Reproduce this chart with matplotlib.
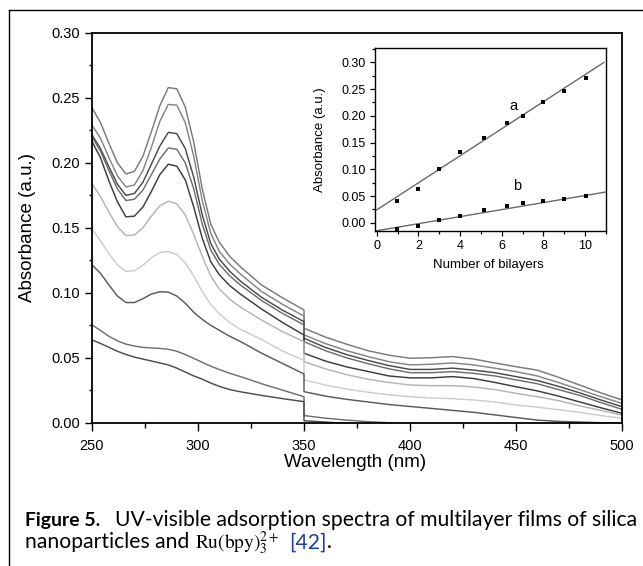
import matplotlib
matplotlib.use('Agg')
import matplotlib.pyplot as plt
from matplotlib.ticker import MultipleLocator
from matplotlib.lines import Line2D

# ---------------- data ----------------
wavelength = [250, 254, 258, 262, 266, 270, 274, 278, 282, 286, 290, 294, 298, 302, 306,
              310, 315, 320, 330, 340, 350, 350, 360, 370, 380, 390, 400, 410, 420, 430,
              440, 450, 460, 470, 480, 490, 500]

spec1 = [.2425, .231, .215, .200, .1915, .1935, .205, .224, .244, .2580, .2570, .243, .216, .180, .153,
         .139, .128, .120, .106, .096, .0868, .0727, .066, .0605, .0555, .052, .0496, .0500, .0509, .0490,
         .0460, .0431, .0405, .0350, .0290, .0230, .0175]
spec2 = [.229, .219, .204, .190, .1815, .183, .194, .212, .232, .2450, .2445, .231, .205, .171, .146,
         .132, .122, .1145, .101, .091, .082, .0676, .061, .0555, .051, .047, .0445, .0450, .0460, .0445,
         .0420, .0393, .0360, .0310, .0255, .0200, .0149]
spec3 = [.2216, .211, .197, .1835, .1750, .1765, .185, .199, .213, .2235, .2225, .211, .189, .160, .138,
         .126, .1165, .109, .0965, .0865, .0778, .065, .058, .0525, .048, .0440, .0410, .0410, .0420, .0405,
         .0385, .0355, .0325, .0280, .0230, .0175, .0123]
spec4 = [.2200, .209, .194, .1800, .1710, .1720, .179, .191, .203, .2115, .2105, .200, .180, .153, .133,
         .122, .113, .106, .094, .084, .0753, .0624, .0555, .050, .0455, .0415, .0385, .0385, .0393, .0380,
         .0360, .0330, .0300, .0255, .0210, .0155, .0103]
spec5 = [.2165, .204, .186, .170, .1585, .1590, .166, .178, .191, .1990, .1975, .187, .166, .142, .124,
         .114, .1055, .099, .0875, .0770, .0675, .0535, .0475, .043, .0395, .036, .0345, .0345, .0355, .0340,
         .0310, .0277, .0245, .0205, .0160, .0115, .0072]
spec6 = [.1840, .174, .162, .151, .1440, .1445, .150, .159, .167, .1705, .1685, .160, .145, .128, .113,
         .103, .095, .089, .079, .070, .0624, .047, .0415, .037, .0335, .031, .0290, .0285, .0285, .0275,
         .0255, .0226, .0200, .0170, .0130, .0095, .0059]
spec7 = [.1490, .140, .130, .1215, .1165, .1170, .121, .127, .131, .1317, .1295, .123, .113, .101, .091,
         .084, .077, .072, .064, .055, .0480, .0330, .029, .0260, .0235, .0215, .0200, .0190, .0185, .0175,
         .0160, .0136, .0120, .0100, .0080, .0055, .0034]
spec8 = [.1215, .115, .106, .0975, .0925, .0925, .0955, .0990, .1008, .1005, .0975, .0920, .0850, .0795, .0750,
         .0712, .0665, .0625, .0535, .0455, .0375, .0239, .0205, .0180, .0160, .0140, .0125, .0110, .0095, .0080,
         .0060, .0040, .0020, .0010, .0005, .0000, -.0005]
spec9 = [.0753, .0710, .0665, .0630, .0605, .0590, .0580, .0575, .0572, .0565, .0550, .0525, .0495, .0465, .0435,
         .0410, .0380, .0355, .0300, .0250, .0200, .0055, .0035, .0020, .0008, .0000, -.0010, -.0018, -.0025, -.0030,
         -.0035, -.0040, -.0045, -.0050, -.0055, -.0060, -.0065]
spec10 = [.0637, .0610, .0580, .0550, .0525, .0505, .0490, .0475, .0460, .0445, .0420, .0390, .0360, .0335, .0305,
          .0280, .0255, .0238, .0210, .0185, .0162, .0015, .0005, -.0005, -.0015, -.0025, -.0035, -.0045, -.0055, -.0065,
          -.0075, -.0085, -.0095, -.0105, -.0115, -.0125, -.0135]

x_ticks = [250, 300, 350, 400, 450, 500]
y_ticks = [0.00, 0.05, 0.10, 0.15, 0.20, 0.25, 0.30]
y_tick_labels = ['0.00', '0.05', '0.10', '0.15', '0.20', '0.25', '0.30']

# inset data
bilayers_a = [0.96, 1.98, 3.01, 3.99, 5.13, 6.25, 7.0, 7.97, 9.0, 10.03]
absorb_a = [0.0406, 0.0625, 0.100, 0.133, 0.159, 0.187, 0.2004, 0.2255, 0.2466, 0.271]
bilayers_b = [0.96, 1.98, 3.01, 3.99, 5.13, 6.25, 7.0, 7.97, 9.0, 10.03]
absorb_b = [-0.0118, -0.006, 0.005, 0.013, 0.023, 0.031, 0.036, 0.041, 0.045, 0.050]
fit_a_x = [0.0, 10.9]
fit_a_y = [0.024, 0.300]
fit_b_x = [0.0, 11.0]
fit_b_y = [-0.015, 0.0575]
inset_x_ticks = [0, 2, 4, 6, 8, 10]
inset_y_ticks = [0.00, 0.05, 0.10, 0.15, 0.20, 0.25, 0.30]
inset_y_tick_labels = ['0.00', '0.05', '0.10', '0.15', '0.20', '0.25', '0.30']

# ---------------- style ----------------
plt.rcParams['font.family'] = ['Liberation Sans', 'DejaVu Sans']
plt.rcParams['mathtext.fontset'] = 'stix'
W, H = 643, 566
fig = plt.figure(figsize=(W / 100, H / 100), dpi=100)

series = [spec1, spec2, spec3, spec4, spec5, spec6, spec7, spec8, spec9, spec10]
colors = ['#7a7a7a', '#858585', '#4a4a4a', '#6e6e6e', '#3c3c3c',
          '#b4b4b4', '#cdcdcd', '#5a5a5a', '#707070', '#4d4d4d']

ax = fig.add_axes([92 / W, 1 - 422.7 / H, 530 / W, 389.7 / H])
for vals, col in zip(series, colors):
    ax.plot(wavelength, vals, color=col, lw=1.05, solid_joinstyle='round')
ax.set_xlim(250, 500)
ax.set_ylim(0, 0.30)
ax.set_xticks(x_ticks)
ax.set_xticklabels([str(v) for v in x_ticks])
ax.set_yticks(y_ticks)
ax.set_yticklabels(y_tick_labels)
ax.xaxis.set_minor_locator(MultipleLocator(25))
ax.yaxis.set_minor_locator(MultipleLocator(0.025))
ax.tick_params(which='both', direction='out', top=False, right=False, color='k')
ax.tick_params(axis='x', which='major', length=6, width=1.0, pad=6, labelsize=10.5)
ax.tick_params(axis='x', which='minor', length=3.5, width=1.0)
ax.tick_params(axis='y', which='major', length=5, width=1.0, pad=3.5, labelsize=10.5)
ax.tick_params(axis='y', which='minor', length=2.5, width=1.0)
for sp in ax.spines.values():
    sp.set_linewidth(1.3)
ax.set_xlabel('Wavelength (nm)', fontsize=13.5)
ax.xaxis.set_label_coords(0.496, -0.1034)
ax.xaxis.label.set_va('center')
ax.set_ylabel('Absorbance (a.u.)', fontsize=13.5)
ax.yaxis.set_label_coords(-0.1208, 0.5)
ax.yaxis.label.set_va('center')

# inset
axi = fig.add_axes([375 / W, 1 - 231 / H, 231 / W, 183 / H])
axi.plot(fit_a_x, fit_a_y, color='#6a6a6a', lw=1.0)
axi.plot(fit_b_x, fit_b_y, color='#6a6a6a', lw=1.0)
axi.plot(bilayers_a, absorb_a, 's', color='k', ms=3.3, mew=0)
axi.plot(bilayers_b, absorb_b, 's', color='k', ms=3.0, mew=0)
axi.text(6.54, 0.2185, 'a', fontsize=10.5, ha='center', va='center')
axi.text(6.73, 0.0687, 'b', fontsize=10.5, ha='center', va='center')
axi.set_xlim(-0.08, 11.0)
axi.set_ylim(-0.0155, 0.327)
axi.set_xticks(inset_x_ticks)
axi.set_xticklabels([str(v) for v in inset_x_ticks])
axi.set_yticks(inset_y_ticks)
axi.set_yticklabels(inset_y_tick_labels)
axi.xaxis.set_minor_locator(MultipleLocator(1))
axi.yaxis.set_minor_locator(MultipleLocator(0.025))
axi.tick_params(which='both', direction='out', top=False, right=False)
axi.tick_params(which='major', length=3.5, width=0.9, pad=3, labelsize=9)
axi.tick_params(which='minor', length=2, width=0.9)
for sp in axi.spines.values():
    sp.set_linewidth(1.0)
axi.set_xlabel('Number of bilayers', fontsize=9.5)
axi.xaxis.set_label_coords(0.489, -0.186)
axi.xaxis.label.set_va('center')
axi.set_ylabel('Absorbance (a.u.)', fontsize=9.5)
axi.yaxis.set_label_coords(-0.238, 0.5)
axi.yaxis.label.set_va('center')

# outer frame (open to right and bottom)
fig.add_artist(Line2D([8.5 / W, 8.5 / W], [1 - 9.5 / H, 0], transform=fig.transFigure, color='k', lw=1.0))
fig.add_artist(Line2D([8.5 / W, 1], [1 - 9.5 / H, 1 - 9.5 / H], transform=fig.transFigure, color='k', lw=1.0))

# caption
r = fig.canvas.get_renderer()
cap_font = ['Lato', 'DejaVu Sans']


def put(x, y, s, target_w=None, **kw):
    t = fig.text(x / W, 1 - y / H, s, va='baseline', ha='left', **kw)
    if target_w is not None:
        w = t.get_window_extent(renderer=r).width
        t.set_fontsize(t.get_fontsize() * target_w / w)
    return t, t.get_window_extent(renderer=r).x1


t1, _ = put(25, 525.7, 'Figure 5.', target_w=75, family=cap_font, fontweight='bold', fontsize=13)
t2, _ = put(115, 525.7, 'UV-visible adsorption spectra of multilayer films of silica', target_w=520,
            family=cap_font, fontsize=13)
fs = t2.get_fontsize()
_, x_and = put(25, 548.3, 'nanoparticles and', family=cap_font, fontsize=fs)
_, x_ru = put(x_and + 6, 548.3, r'$\mathrm{Ru(bpy)}_3^{2+}$', fontsize=fs * 0.92)
_, xe = put(x_ru + 10, 548.3, '[42]', family=cap_font, fontsize=fs, color='#1f3f99')
put(xe, 548.3, '.', family=cap_font, fontsize=fs)

fig.savefig('out.png', dpi=100)
